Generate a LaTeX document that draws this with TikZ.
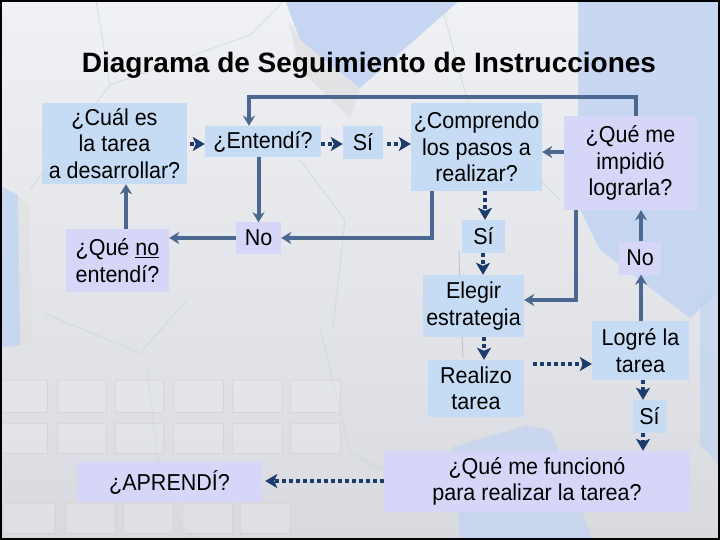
\documentclass[tikz,border=0pt]{standalone}
\usepackage{fontspec}
\setmainfont{Liberation Sans}
\newfontfamily\boxfont[FakeStretch=0.935]{Liberation Sans}
\usetikzlibrary{arrows.meta,calc}
\definecolor{boxblue}{HTML}{C6DCF5}
\definecolor{boxlav}{HTML}{D6D6F8}
\definecolor{lineblue}{HTML}{4A6890}
\definecolor{dotblue}{HTML}{1B3D6D}
\definecolor{bgtop}{HTML}{F0F1F5}
\definecolor{bgbot}{HTML}{D8DADF}
\definecolor{bgblue}{HTML}{C2D4F2}
\definecolor{hexline}{HTML}{C9D6CD}
\definecolor{gridline}{HTML}{DCCACC}
\begin{document}
\begin{tikzpicture}[x=1pt,y=-1pt,
  box/.style={fill=boxblue, inner sep=0pt, align=center, font=\boxfont\fontsize{23}{26.5}\selectfont},
  lbox/.style={box, fill=boxlav},
  sol/.style={draw=lineblue, line width=4pt, -{Stealth[length=10pt,width=12pt,inset=3pt]}},
  dots/.style={draw=dotblue, line width=4pt, dash pattern=on 4pt off 3pt, -{Stealth[length=12pt,width=14pt,inset=3pt]}},
  hexl/.style={draw=hexline, line width=0.8pt, opacity=0.7},
  gridbox/.style={draw=gridline, draw opacity=0.55, fill=white, fill opacity=0.15, line width=0.8pt},
]
\useasboundingbox (0,0) rectangle (720,540);
% background
\fill[top color=bgtop, bottom color=bgbot] (0,0) rectangle (720,540);
\fill[gray!30, opacity=0.5] (288,20) -- (300,40) -- (360,88) -- (350,118) -- (300,70) -- cycle;
\fill[bgblue, opacity=0.9] (285,0) -- (460,0) -- (360,88) -- (300,40) -- cycle;
\fill[bgblue, opacity=0.85] (578,0) -- (720,0) -- (720,290) -- (690,318) -- (600,250) -- (578,205) -- cycle;
\fill[bgblue, opacity=0.7] (700,300) -- (720,290) -- (720,465) -- (700,445) -- cycle;
\fill[gray!25, opacity=0.5] (16,195) -- (30,205) -- (32,345) -- (18,345) -- cycle;
\fill[bgblue, opacity=0.8] (0,186) -- (18,195) -- (20,345) -- (0,348) -- cycle;
\fill[bgblue, opacity=0.7] (453,447) -- (527,425) -- (550,430) -- (593,540) -- (460,540) -- cycle;
% faint hexagon lines
\draw[hexl] (96,0) -- (110,85) -- (30,190);
\draw[hexl] (110,85) -- (250,35) -- (285,0);
\draw[hexl] (43,313) -- (140,353) -- (187,300);
\draw[hexl] (147,370) -- (163,500) -- (195,540);
\draw[hexl] (320,327) -- (350,453) -- (383,470);
\draw[hexl] (333,327) -- (345,220) -- (300,160);
\draw[hexl] (440,0) -- (470,110) -- (560,200);
\draw[hexl] (600,0) -- (610,40);
\draw[gray!50, line width=0.8pt] (459,250) -- (460,300);
\draw[gray!50, line width=0.8pt] (462,336) -- (463,358);
% faint grid of rectangles
\foreach \a/\b in {0/47,57/106,115/163,173/223,232/282,290/340}{
  \draw[gridbox] (\a,380) rectangle (\b,412);
  \draw[gridbox] (\a,423) rectangle (\b,453);
}
\foreach \a/\b in {3/55,65/115,123/173,182/232,240/290}{
  \draw[gridbox] (\a,503) rectangle (\b,533);
}
% title
\node[font=\bfseries\fontsize{28}{32}\selectfont, anchor=base] (title) at (369,73) {Diagrama de Seguimiento de Instrucciones};
% boxes
\node[box, minimum width=145pt, minimum height=81pt] (cual) at (114.5,143.5) {¿Cuál es\\la tarea\\a desarrollar?};
\node[box, minimum width=116pt, minimum height=31pt] (entendi) at (263,141.5) {¿Entendí?};
\node[box, minimum width=40pt, minimum height=33pt] (si1) at (363,142.5) {Sí};
\node[box, minimum width=131pt, minimum height=88pt] (comprendo) at (476.5,147) {¿Comprendo\\los pasos a\\realizar?};
\node[lbox, minimum width=133pt, minimum height=94pt] (impidio) at (630.5,163) {¿Qué me\\impidió\\lograrla?};
\node[lbox, minimum width=103pt, minimum height=63pt] (noent) at (117.5,260.5) {¿Qué \underline{no}\\entendí?};
\node[lbox, minimum width=45pt, minimum height=31pt] (no1) at (258.5,238) {No};
\node[box, minimum width=43pt, minimum height=33pt] (si2) at (483.5,236.5) {Sí};
\node[lbox, minimum width=42pt, minimum height=33pt] (no2) at (640,258) {No};
\node[box, minimum width=101pt, minimum height=62pt] (elegir) at (473.5,306) {Elegir\\estrategia};
\node[box, minimum width=96pt, minimum height=57pt] (realizo) at (476,388.5) {Realizo\\tarea};
\node[box, minimum width=97pt, minimum height=59pt] (logre) at (640.5,350.5) {Logré la\\tarea};
\node[box, minimum width=33pt, minimum height=33pt] (si3) at (649.5,416.5) {Sí};
\node[lbox, minimum width=306pt, minimum height=61pt] (func) at (537,481.5) {¿Qué me funcionó\\para realizar la tarea?};
\node[lbox, minimum width=185pt, minimum height=40pt] (apr) at (169.5,482) {¿APRENDÍ?};
% helper coordinates
\coordinate (xa) at (126,0);
\coordinate (xb) at (432,0);
\coordinate (xc) at (636,0);
\coordinate (xd) at (249,0);
\coordinate (ytop) at (0,97);
\coordinate (yi) at (0,152);
\coordinate (xe) at (576,0);
\coordinate (yf) at (0,300);
\coordinate (xg) at (641,0);
\coordinate (xh) at (485,0);
\coordinate (xi) at (483,0);
\coordinate (xj) at (484,0);
\coordinate (yj) at (0,364);
\coordinate (xk) at (643,0);
\coordinate (yl) at (0,481);
\coordinate (ym) at (0,144);
% solid connectors
\draw[sol] (entendi.south -| no1) -- (no1.north);
\draw[sol] (no1.west) -- (no1.west -| noent.east);
\draw[sol] (noent.north -| xa) -- (cual.south -| xa);
\draw[sol] (comprendo.south -| xb) |- (no1.east);
\draw[sol] (impidio.north -| xc) |- (ytop -| xd) -- (entendi.north -| xd);
\draw[sol] (impidio.west |- yi) -- (comprendo.east |- yi);
\draw[sol] (impidio.south -| xe) |- (elegir.east |- yf);
\draw[sol] (logre.north -| xg) -- (no2.south -| xg);
\draw[sol] (no2.north -| xg) -- (impidio.south -| xg);
% dotted connectors
\draw[dots] ($(cual.east |- ym)+(3,0)$) -- (entendi.west |- ym);
\draw[dots] (entendi.east |- ym) -- (si1.west |- ym);
\draw[dots] ($(si1.east |- ym)+(4,0)$) -- (comprendo.west |- ym);
\draw[dots] (comprendo.south -| xh) -- (si2.north -| xh);
\draw[dots] (si2.south -| xi) -- (elegir.north -| xi);
\draw[dots] (elegir.south -| xj) -- (realizo.north -| xj);
\draw[dots] ($(realizo.east |- yj)+(9,0)$) -- (logre.west |- yj);
\draw[dots] (logre.south -| xk) -- (si3.north -| xk);
\draw[dots] (si3.south -| xk) -- (func.north -| xk);
\draw[dots] (func.west |- yl) -- ($(apr.east |- yl)+(3,0)$);
% frame
\draw[black, line width=4pt] (0,0) rectangle (720,540);
\end{tikzpicture}
\end{document}
